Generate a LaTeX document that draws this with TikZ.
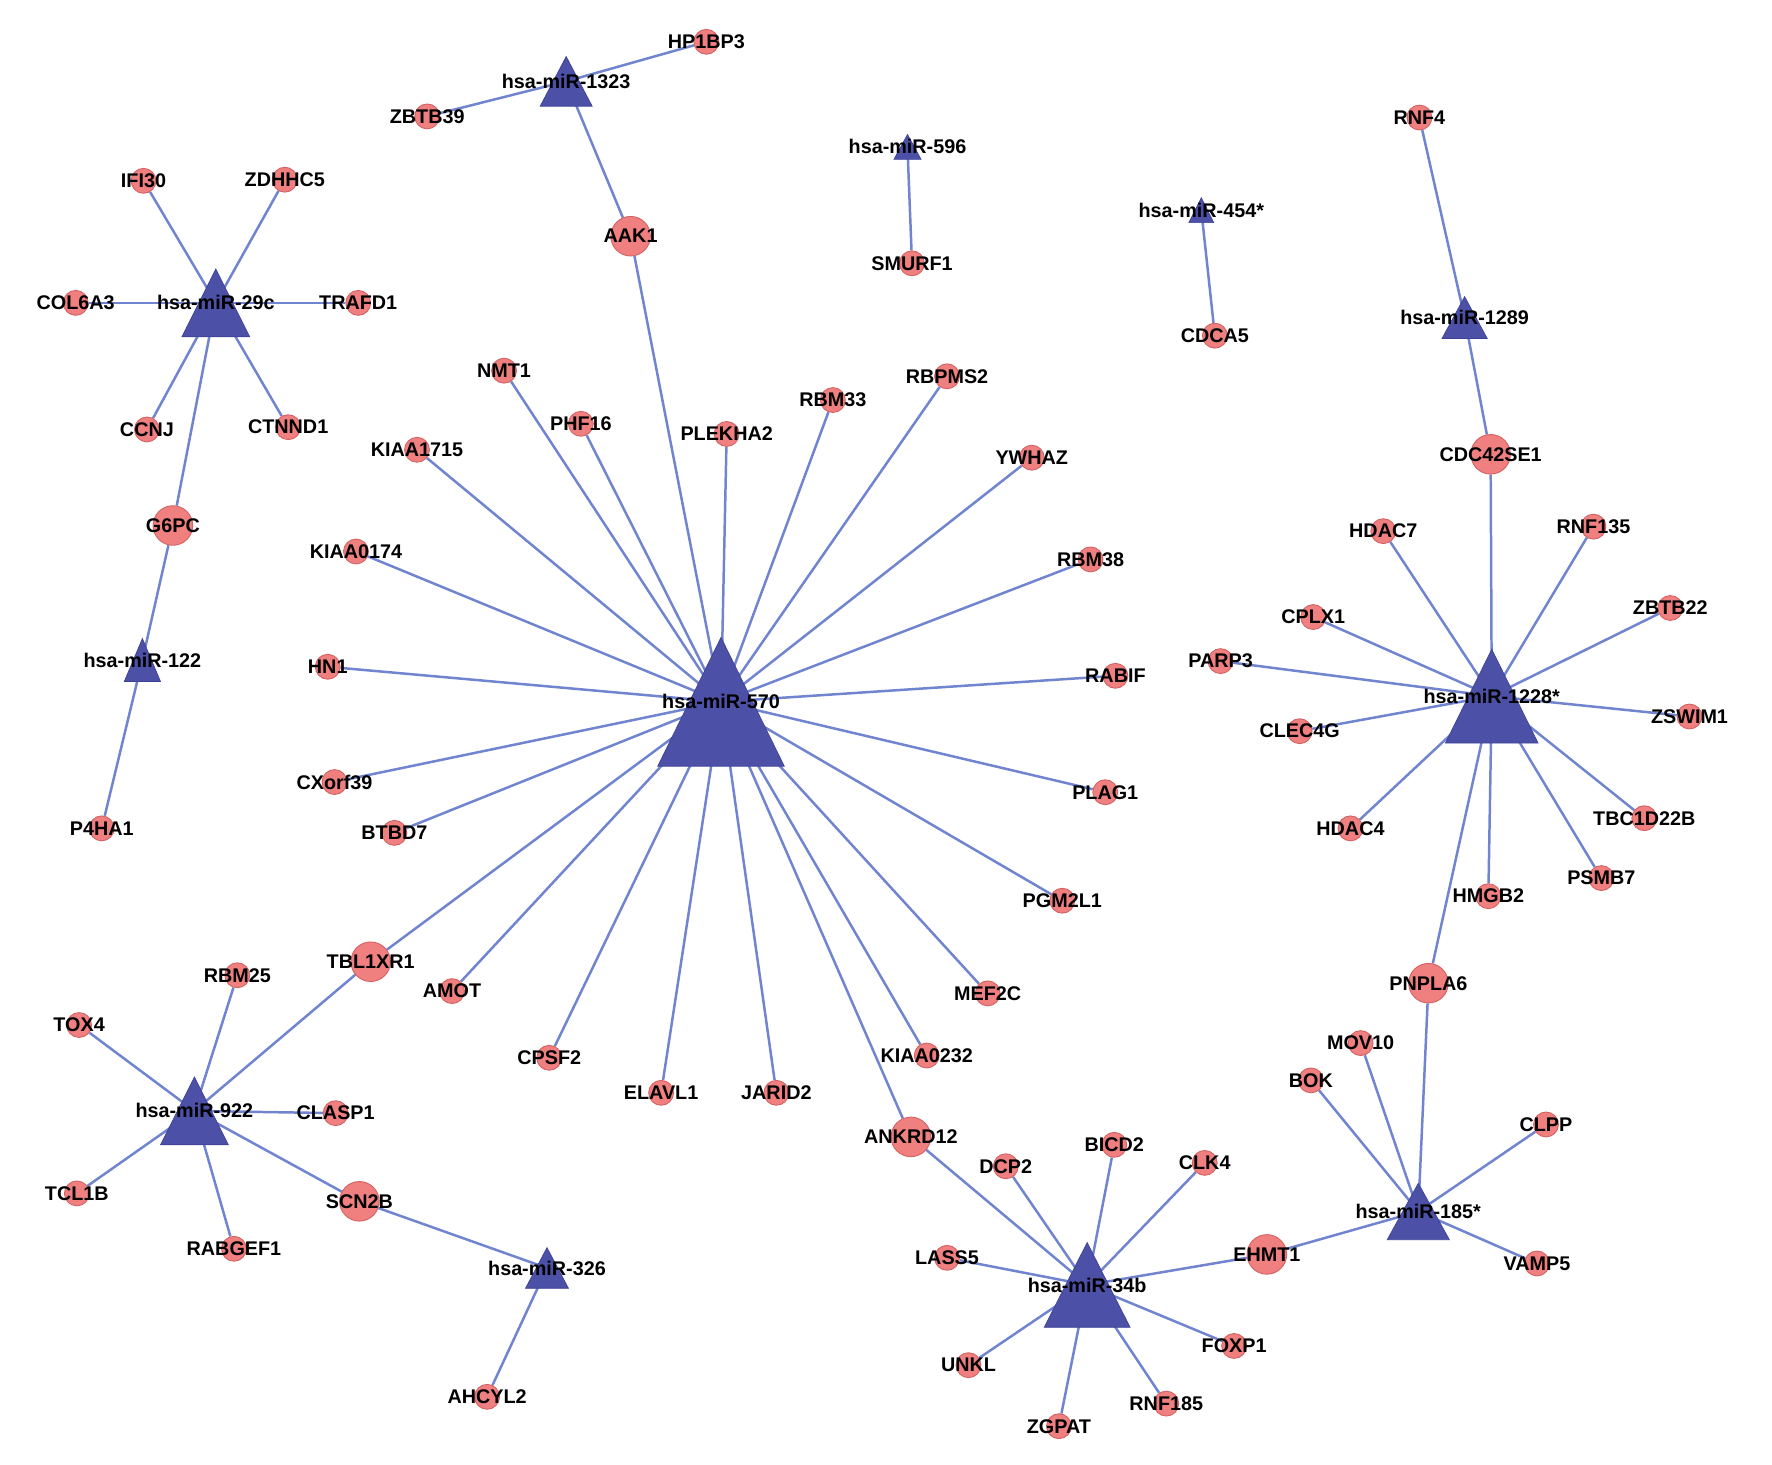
\documentclass[tikz,border=0pt]{standalone}
\usepackage{fontspec}
\setmainfont{Liberation Sans}
\usetikzlibrary{backgrounds}
\pgfdeclarelayer{bottom}
\pgfdeclarelayer{fg}
\pgfsetlayers{bottom,background,main,fg}
\definecolor{edgec}{RGB}{112,132,208}
\definecolor{trifillc}{RGB}{76,80,166}
\definecolor{tridrawc}{RGB}{62,66,150}
\definecolor{genefillc}{RGB}{240,128,128}
\definecolor{genedrawc}{RGB}{212,98,98}
\tikzset{
  genenode/.style={circle, fill=genefillc, draw=genedrawc, line width=0.8pt, inner sep=0pt},
  lab/.style={font=\fontsize{17.5}{17.5}\selectfont\bfseries, text=black, inner sep=0pt},
  link/.style={draw=edgec, line width=2.2pt},
  trishape/.style={fill=trifillc, draw=tridrawc, line width=0.6pt, line join=miter},
}
\newcommand\gn[3][22]{%
  \node[genenode, minimum size=#1pt] (#2) at (#3) {};
  \begin{pgfonlayer}{fg}\node[lab] at (#2) {#2};\end{pgfonlayer}}
\newcommand\mir[6]{%
  \coordinate (#1) at (#3,#4);
  \path[trishape] ({#3-#5/2},{#4+#6/2}) -- ({#3},{#4-#6/2}) -- ({#3+#5/2},{#4+#6/2}) -- cycle;
  \begin{pgfonlayer}{fg}\node[lab] at (#1) {#2};\end{pgfonlayer}}
\begin{document}
\begin{tikzpicture}[x=1pt,y=-1pt]
\begin{pgfonlayer}{bottom}
\fill[white] (0,0) rectangle (1568,1296);
\end{pgfonlayer}
\useasboundingbox (0,0) rectangle (1568,1296);
% miRNA triangles
\mir{m570}{hsa-miR-570}{638}{621}{112}{114}
\mir{m1228}{hsa-miR-1228*}{1320}{616}{82}{83}
\mir{m34b}{hsa-miR-34b}{962}{1137}{76}{75}
\mir{m29c}{hsa-miR-29c}{191}{268}{60}{60}
\mir{m922}{hsa-miR-922}{172}{983}{60}{60}
\mir{m185}{hsa-miR-185*}{1255}{1072}{55}{50}
\mir{m1323}{hsa-miR-1323}{501}{72}{46}{44}
\mir{m1289}{hsa-miR-1289}{1296}{281}{40}{37}
\mir{m122}{hsa-miR-122}{126}{584}{32}{38}
\mir{m326}{hsa-miR-326}{484}{1122}{38}{36}
\mir{m596}{hsa-miR-596}{803}{130}{24}{22}
\mir{m454}{hsa-miR-454*}{1063}{186}{22}{22}
% genes
\gn{HP1BP3}{625,37}
\gn{ZBTB39}{378,103}
\gn[35]{AAK1}{558,209}
\gn{SMURF1}{807,233}
\gn{CDCA5}{1075,297}
\gn{RNF4}{1256,104}
\gn[35]{CDC42SE1}{1319,402}
\gn{IFI30}{127,160}
\gn{ZDHHC5}{252,159}
\gn{COL6A3}{67,268}
\gn{TRAFD1}{317,268}
\gn{CCNJ}{130,380}
\gn{CTNND1}{255,378}
\gn[35]{G6PC}{153,465}
\gn{P4HA1}{90,733}
\gn{NMT1}{446,328}
\gn{PHF16}{514,375}
\gn{PLEKHA2}{643,384}
\gn{RBM33}{737,354}
\gn{RBPMS2}{838,333}
\gn{KIAA1715}{369,398}
\gn{YWHAZ}{913,405}
\gn{KIAA0174}{315,488}
\gn{RBM38}{965,495}
\gn{HN1}{290,590}
\gn{RABIF}{987,598}
\gn{CXorf39}{296,692}
\gn{PLAG1}{978,701}
\gn{BTBD7}{349,737}
\gn{PGM2L1}{940,797}
\gn[35]{TBL1XR1}{328,851}
\gn{AMOT}{400,877}
\gn{MEF2C}{874,879}
\gn{CPSF2}{486,936}
\gn{KIAA0232}{820,934}
\gn{ELAVL1}{585,967}
\gn{JARID2}{687,967}
\gn[35]{ANKRD12}{806,1006}
\gn{HDAC7}{1224,470}
\gn{RNF135}{1410,466}
\gn{CPLX1}{1162,546}
\gn{ZBTB22}{1478,538}
\gn{PARP3}{1080,585}
\gn{ZSWIM1}{1495,634}
\gn{CLEC4G}{1150,647}
\gn{TBC1D22B}{1455,724}
\gn{HDAC4}{1195,733}
\gn{PSMB7}{1417,777}
\gn{HMGB2}{1317,793}
\gn[35]{PNPLA6}{1264,870}
\gn{RBM25}{210,863}
\gn{TOX4}{70,907}
\gn{CLASP1}{297,985}
\gn{TCL1B}{68,1056}
\gn{RABGEF1}{207,1105}
\gn[35]{SCN2B}{318,1063}
\gn{AHCYL2}{431,1236}
\gn{DCP2}{890,1032}
\gn{BICD2}{986,1013}
\gn{CLK4}{1066,1029}
\gn{LASS5}{838,1113}
\gn[35]{EHMT1}{1121,1110}
\gn{FOXP1}{1092,1191}
\gn{UNKL}{857,1208}
\gn{RNF185}{1032,1242}
\gn{ZGPAT}{937,1262}
\gn{MOV10}{1204,923}
\gn{BOK}{1160,956}
\gn{CLPP}{1368,995}
\gn{VAMP5}{1360,1118}
% edges
\begin{scope}[on background layer]
\foreach \t in {HP1BP3,ZBTB39,AAK1} \draw[link] (m1323) -- (\t);
\foreach \t in {AAK1,NMT1,PHF16,PLEKHA2,RBM33,RBPMS2,KIAA1715,YWHAZ,KIAA0174,RBM38,HN1,RABIF,CXorf39,PLAG1,BTBD7,PGM2L1,TBL1XR1,AMOT,MEF2C,CPSF2,KIAA0232,ELAVL1,JARID2,ANKRD12} \draw[link] (m570) -- (\t);
\draw[link] (m596) -- (SMURF1);
\draw[link] (m454) -- (CDCA5);
\foreach \t in {RNF4,CDC42SE1} \draw[link] (m1289) -- (\t);
\foreach \t in {CDC42SE1,HDAC7,RNF135,CPLX1,ZBTB22,PARP3,ZSWIM1,CLEC4G,TBC1D22B,HDAC4,PSMB7,HMGB2,PNPLA6} \draw[link] (m1228) -- (\t);
\foreach \t in {IFI30,ZDHHC5,COL6A3,TRAFD1,CCNJ,CTNND1,G6PC} \draw[link] (m29c) -- (\t);
\foreach \t in {G6PC,P4HA1} \draw[link] (m122) -- (\t);
\foreach \t in {TBL1XR1,RBM25,TOX4,CLASP1,TCL1B,RABGEF1,SCN2B} \draw[link] (m922) -- (\t);
\foreach \t in {SCN2B,AHCYL2} \draw[link] (m326) -- (\t);
\foreach \t in {ANKRD12,DCP2,BICD2,CLK4,LASS5,EHMT1,FOXP1,UNKL,RNF185,ZGPAT} \draw[link] (m34b) -- (\t);
\foreach \t in {EHMT1,PNPLA6,MOV10,BOK,CLPP,VAMP5} \draw[link] (m185) -- (\t);
\end{scope}
\end{tikzpicture}
\end{document}
